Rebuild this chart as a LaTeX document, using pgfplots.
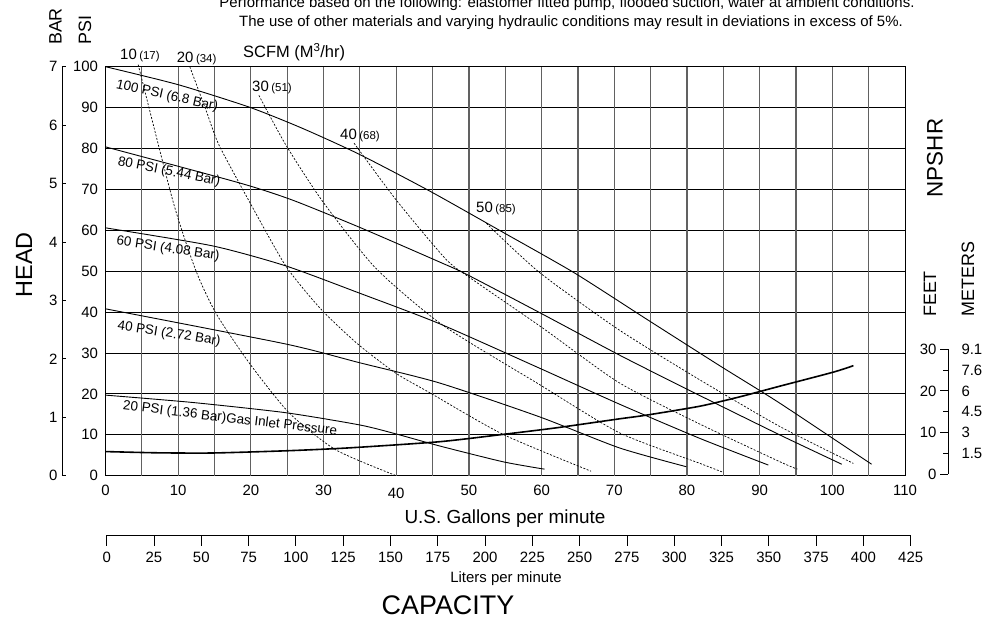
\documentclass[border=0pt]{standalone}
\usepackage{pgfplots}
\pgfplotsset{compat=1.18}
\usepackage{fontspec}
\setmainfont{Liberation Sans}
\newcommand\fs[1]{\fontsize{#1}{#1}\selectfont}

\pgfplotsset{
  base/.style={scale only axis, anchor=south west, clip=false,
    tick label style={font=\fs{15}},
    /pgf/number format/assume math mode=true,
    axis line style={line width=0.8bp},
    every tick/.style={black, line width=0.8bp}},
  pump/.style={black, line width=0.9bp, smooth, tension=0.4},
  scfm/.style={black, line width=0.7bp, dash pattern=on 2bp off 1.6bp, smooth, tension=0.4},
}

\begin{document}
\begin{tikzpicture}
\path[use as bounding box] (0,0) rectangle (996bp,626bp);

% main chart: head (psi) against flow (US gpm)
\begin{axis}[base, at={(105.5bp,150.3bp)}, width=799.5bp, height=409bp,
  xmin=0, xmax=110, ymin=0, ymax=100,
  xtick={0,10,...,110}, ytick={0,10,...,100},
  xticklabels={0,10,20,30,\raisebox{-3bp}[\height][0pt]{40},50,60,70,80,90,100,110},
  xticklabel style={yshift=-6bp}, yticklabel style={xshift=-4bp},
  major tick length=0bp,
  ymajorgrids, major grid style={black, line width=0.8bp}]
\pgfplotsinvokeforeach{5,10,...,105}{
  \draw[black!62, line width=1.2bp] (axis cs:#1,0) -- (axis cs:#1,100);
}
% air inlet pressure curves
\addplot[pump] coordinates {(0,100) (10,95.6) (19.8,90.1) (27,85) (34.9,78.6)
  (44.6,69.6) (54.7,59.5) (64.5,49.6) (74.6,38.1) (84.5,26.9) (92.8,17.7) (105.4,2.8)};
\addplot[pump] coordinates {(0,80.4) (18.4,71.6) (25.7,67.4) (35,60.7) (45.9,52.3)
  (49.6,49.3) (59.7,39.9) (70.7,29.5) (80.4,20.8) (92.8,9.95) (101.3,2.8)};
\addplot[pump] coordinates {(0,60.6) (14.7,56.2) (24.8,51.3) (35,44.6) (45.9,37.2)
  (59.7,26.3) (70.7,17.5) (81.8,9.1) (91.2,2.6)};
\addplot[pump] coordinates {(0,40.8) (24.8,32.2) (35,27.6) (45.9,22.7) (59.7,14.4)
  (70.7,6.8) (79.9,2.2)};
\addplot[pump] coordinates {(0,19.7) (12,17.9) (24.8,15.4) (35,12.4) (40,10.2)
  (45.9,7.3) (54.7,3.4) (60.4,1.6)};
% NPSHR
\addplot[pump, line width=1.6bp] coordinates {(0,5.9) (7,5.6) (14.7,5.55) (25,6.1)
  (33.5,6.8) (45.9,8.3) (54.7,10.1) (62,11.7) (70.7,13.9) (74.4,14.8) (81.8,17)
  (87.3,19.3) (92.8,21.9) (100.1,25.3) (102.9,26.9)};
% air consumption (SCFM)
\addplot[scfm] coordinates {(4.5,100.5) (9.3,67) (12.4,50.3) (15.2,39.7) (19.8,27.5)
  (25.3,15.3) (31.7,6.3) (40,0)};
\addplot[scfm] coordinates {(11.6,100) (13.9,89) (15.6,80.9) (19.8,67) (24.8,51.3)
  (29.6,40.8) (34.7,32.2) (40,25) (44.6,20.3) (54.7,10.1) (66.8,1.1)};
\addplot[scfm] coordinates {(21.1,93) (24.8,80.9) (29.9,67) (37.2,50.7) (46.4,36.8)
  (59.7,22.3) (70.7,10.5) (81.8,3) (85,0.8)};
\addplot[scfm] coordinates {(34.2,81.3) (40,67.4) (46.8,53) (50.3,48.2) (60,36.3)
  (70.7,22.7) (81.8,12.6) (92.8,3.4) (95.2,1.6)};
\addplot[scfm] coordinates {(52.4,61.7) (59.7,49.7) (70.7,35.6) (81.8,23.4)
  (92.8,12) (102.9,3)};
\end{axis}

% bar scale
\begin{axis}[base, at={(62bp,150.3bp)}, width=1bp, height=409bp,
  xmin=0, xmax=1, ymin=0, ymax=7, ytick={0,...,7},
  yticklabel style={xshift=-1bp},
  axis y line*=left, hide x axis, tick align=inside, major tick length=4bp]
\end{axis}

% NPSHR scale, feet
\begin{axis}[base, at={(948bp,152bp)}, width=1bp, height=124.7bp,
  xmin=0, xmax=1, ymin=0, ymax=30, ytick={0,10,20,30},
  extra y ticks={5,15,25}, extra y tick labels={},
  extra tick style={major tick length=5bp},
  axis y line*=left, hide x axis, tick align=outside, major tick length=8bp]
\end{axis}
% NPSHR scale, meters
\begin{axis}[base, at={(947bp,152bp)}, width=1bp, height=124.7bp,
  xmin=0, xmax=1, ymin=0, ymax=30, ytick={5,10,...,30},
  yticklabels={1.5,3,4.5,6,7.6,9.1},
  axis y line*=right, hide x axis, y axis line style={draw=none},
  major tick length=0bp, yticklabel style={xshift=10bp}]
\end{axis}

% liters per minute scale
\begin{axis}[base, at={(106.7bp,91bp)}, width=804bp, height=1bp,
  xmin=0, xmax=425, ymin=0, ymax=1, xtick={0,25,...,425},
  xticklabel style={yshift=-3bp},
  axis x line*=bottom, hide y axis, tick align=outside, major tick length=11bp]
\end{axis}

% texts
\node[font=\fs{15}, anchor=base] at (567bp,618bp)
  {Performance based on the following: elastomer fitted pump, flooded suction, water at ambient conditions.};
\node[font=\fs{15}, anchor=base] at (571bp,599bp)
  {The use of other materials and varying hydraulic conditions may result in deviations in excess of 5\%.};
\node[font=\fs{18}, rotate=90] at (55.5bp,599.5bp) {BAR};
\node[font=\fs{18}, rotate=90] at (85bp,596bp) {PSI};
\node[font=\fs{23.5}, rotate=90] at (24bp,361bp) {HEAD};
\node[font=\fs{22.5}, rotate=90] at (935bp,468bp) {NPSHR};
\node[font=\fs{18}, rotate=90] at (930bp,332bp) {FEET};
\node[font=\fs{18}, rotate=90] at (968bp,347bp) {METERS};
\node[font=\fs{19}] at (505bp,107bp) {U.S. Gallons per minute};
\node[font=\fs{15}] at (506bp,47bp) {Liters per minute};
\node[font=\fs{27}] at (448bp,21bp) {CAPACITY};

\node[anchor=base west, inner sep=0, font=\fs{16.5}] at (243bp,568.7bp) {SCFM (M\textsuperscript{3}/hr)};
\node[anchor=base west, inner sep=0, font=\fs{15}] at (120bp,566.7bp) {10\,{\fs{11.5}(17)}};
\node[anchor=base west, inner sep=0, font=\fs{15}] at (176.7bp,563.7bp) {20\,{\fs{11.5}(34)}};
\node[anchor=base west, inner sep=0, font=\fs{15}] at (252bp,534.3bp) {30\,{\fs{11.5}(51)}};
\node[anchor=base west, inner sep=0, font=\fs{15}] at (340bp,486.7bp) {40\,{\fs{11.5}(68)}};
\node[anchor=base west, inner sep=0, font=\fs{15}] at (476bp,413.3bp) {50\,{\fs{11.5}(85)}};

\node[font=\fs{13.5}, rotate=-12.6] at (167bp,530bp) {100 PSI (6.8 Bar)};
\node[font=\fs{13.5}, rotate=-11.5] at (169bp,454bp) {80 PSI (5.44 Bar)};
\node[font=\fs{13.5}, rotate=-8.5] at (168bp,377bp) {60 PSI (4.08 Bar)};
\node[font=\fs{13.5}, rotate=-8.9] at (169bp,292bp) {40 PSI (2.72 Bar)};
\node[font=\fs{13.5}, rotate=-6.8] at (230bp,207bp) {20 PSI (1.36 Bar)Gas Inlet Pressure};
\end{tikzpicture}
\end{document}
